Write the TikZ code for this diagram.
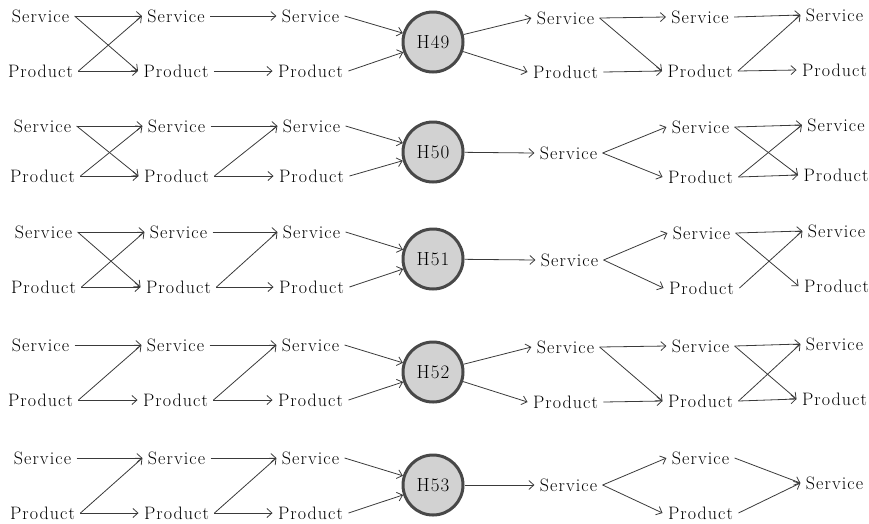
\documentclass[tikz,border=0pt]{standalone}
\usepackage{fontspec}
\setmainfont{Latin Modern Roman}[LetterSpace=6]
\usetikzlibrary{arrows.meta}
\definecolor{linegray}{HTML}{3A3A3A}
\definecolor{hubfill}{HTML}{D2D2D2}
\definecolor{hubedge}{HTML}{484848}
\begin{document}
\begin{tikzpicture}[x=1pt,y=-1pt,
  lbl/.style={inner sep=2.5pt,outer sep=3pt,font=\fontsize{18}{20}\selectfont},
  hub/.style={circle,draw=hubedge,fill=hubfill,line width=3pt,minimum size=60pt,
    inner sep=0pt,font=\fontsize{19}{20}\selectfont},
  conn/.style={draw=linegray,line width=0.8pt,-{Straight Barb[length=5pt,width=9pt]}}]
\useasboundingbox (0,0) rectangle (869,523);

% ---------- H49 ----------
\node[lbl] (a0s) at (40.5,16) {Service};
\node[lbl] (a0p) at (40.5,71) {Product};
\node[lbl] (a1s) at (176,16) {Service};
\node[lbl] (a1p) at (176,71) {Product};
\node[lbl] (a2s) at (310.5,16) {Service};
\node[lbl] (a2p) at (310.5,71) {Product};
\node[hub] (ah) at (433,42) {H49};
\node[lbl] (a3s) at (565.5,18) {Service};
\node[lbl] (a3p) at (565.5,72) {Product};
\node[lbl] (a4s) at (700,17) {Service};
\node[lbl] (a4p) at (700,71) {Product};
\node[lbl] (a5s) at (834.5,15) {Service};
\node[lbl] (a5p) at (834.5,70) {Product};
\draw[conn] (a0s.east) -- (a1s.west);
\draw[conn] (a0s.east) -- (a1p.west);
\draw[conn] (a0p.east) -- (a1s.west);
\draw[conn] (a0p.east) -- (a1p.west);
\draw[conn] (a1s.east) -- (a2s.west);
\draw[conn] (a1p.east) -- (a2p.west);
\draw[conn] (a2s.east) -- (ah);
\draw[conn] (a2p.east) -- (ah);
\draw[conn] (ah) -- (a3s.west);
\draw[conn] (ah) -- (a3p.west);
\draw[conn] (a3s.east) -- (a4s.west);
\draw[conn] (a3s.east) -- (a4p.west);
\draw[conn] (a3p.east) -- (a4p.west);
\draw[conn] (a4s.east) -- (a5s.west);
\draw[conn] (a4p.east) -- (a5s.west);
\draw[conn] (a4p.east) -- (a5p.west);

% ---------- H50 ----------
\node[lbl] (b0s) at (42.5,126) {Service};
\node[lbl] (b0p) at (42.5,176) {Product};
\node[lbl] (b1s) at (176.5,126) {Service};
\node[lbl] (b1p) at (176.5,176) {Product};
\node[lbl] (b2s) at (311.5,126) {Service};
\node[lbl] (b2p) at (311.5,176) {Product};
\node[hub] (bh) at (433,152) {H50};
\node[lbl] (b3s) at (568.5,153) {Service};
\node[lbl] (b4s) at (700.5,127) {Service};
\node[lbl] (b4p) at (700.5,177) {Product};
\node[lbl] (b5s) at (836,125) {Service};
\node[lbl] (b5p) at (836,175) {Product};
\draw[conn] (b0s.east) -- (b1s.west);
\draw[conn] (b0s.east) -- (b1p.west);
\draw[conn] (b0p.east) -- (b1s.west);
\draw[conn] (b0p.east) -- (b1p.west);
\draw[conn] (b1s.east) -- (b2s.west);
\draw[conn] (b1p.east) -- (b2s.west);
\draw[conn] (b1p.east) -- (b2p.west);
\draw[conn] (b2s.east) -- (bh);
\draw[conn] (b2p.east) -- (bh);
\draw[conn] (bh) -- (b3s.west);
\draw[conn] (b3s.east) -- (b4s.west);
\draw[conn] (b3s.east) -- (b4p.west);
\draw[conn] (b4s.east) -- (b5s.west);
\draw[conn] (b4s.east) -- (b5p.west);
\draw[conn] (b4p.east) -- (b5s.west);
\draw[conn] (b4p.east) -- (b5p.west);

% ---------- H51 ----------
\node[lbl] (c0s) at (43.5,232) {Service};
\node[lbl] (c0p) at (43.5,287) {Product};
\node[lbl] (c1s) at (178.5,232) {Service};
\node[lbl] (c1p) at (178.5,287) {Product};
\node[lbl] (c2s) at (311.5,232) {Service};
\node[lbl] (c2p) at (311.5,287) {Product};
\node[hub] (ch) at (433,259) {H51};
\node[lbl] (c3s) at (569.5,260) {Service};
\node[lbl] (c4s) at (701.5,233) {Service};
\node[lbl] (c4p) at (701.5,288) {Product};
\node[lbl] (c5s) at (836.5,231) {Service};
\node[lbl] (c5p) at (836.5,286) {Product};
\draw[conn] (c0s.east) -- (c1s.west);
\draw[conn] (c0s.east) -- (c1p.west);
\draw[conn] (c0p.east) -- (c1s.west);
\draw[conn] (c0p.east) -- (c1p.west);
\draw[conn] (c1s.east) -- (c2s.west);
\draw[conn] (c1p.east) -- (c2s.west);
\draw[conn] (c1p.east) -- (c2p.west);
\draw[conn] (c2s.east) -- (ch);
\draw[conn] (c2p.east) -- (ch);
\draw[conn] (ch) -- (c3s.west);
\draw[conn] (c3s.east) -- (c4s.west);
\draw[conn] (c3s.east) -- (c4p.west);
\draw[conn] (c4s.east) -- (c5s.west);
\draw[conn] (c4s.east) -- (c5p.west);
\draw[conn] (c4p.east) -- (c5s.west);

% ---------- H52 ----------
\node[lbl] (d0s) at (40.5,345) {Service};
\node[lbl] (d0p) at (40.5,400) {Product};
\node[lbl] (d1s) at (175.5,345) {Service};
\node[lbl] (d1p) at (175.5,400) {Product};
\node[lbl] (d2s) at (310.5,345) {Service};
\node[lbl] (d2p) at (310.5,400) {Product};
\node[hub] (dh) at (433,372) {H52};
\node[lbl] (d3s) at (565.5,347) {Service};
\node[lbl] (d3p) at (565.5,402) {Product};
\node[lbl] (d4s) at (700.5,346) {Service};
\node[lbl] (d4p) at (700.5,401) {Product};
\node[lbl] (d5s) at (834.5,344) {Service};
\node[lbl] (d5p) at (834.5,399) {Product};
\draw[conn] (d0s.east) -- (d1s.west);
\draw[conn] (d0p.east) -- (d1s.west);
\draw[conn] (d0p.east) -- (d1p.west);
\draw[conn] (d1s.east) -- (d2s.west);
\draw[conn] (d1p.east) -- (d2s.west);
\draw[conn] (d1p.east) -- (d2p.west);
\draw[conn] (d2s.east) -- (dh);
\draw[conn] (d2p.east) -- (dh);
\draw[conn] (dh) -- (d3s.west);
\draw[conn] (dh) -- (d3p.west);
\draw[conn] (d3s.east) -- (d4s.west);
\draw[conn] (d3s.east) -- (d4p.west);
\draw[conn] (d3p.east) -- (d4p.west);
\draw[conn] (d4s.east) -- (d5s.west);
\draw[conn] (d4s.east) -- (d5p.west);
\draw[conn] (d4p.east) -- (d5s.west);
\draw[conn] (d4p.east) -- (d5p.west);

% ---------- H53 ----------
\node[lbl] (e0s) at (42.5,458) {Service};
\node[lbl] (e0p) at (42.5,513) {Product};
\node[lbl] (e1s) at (176.5,458) {Service};
\node[lbl] (e1p) at (176.5,513) {Product};
\node[lbl] (e2s) at (310.5,458) {Service};
\node[lbl] (e2p) at (310.5,513) {Product};
\node[hub] (eh) at (433,485) {H53};
\node[lbl] (e3s) at (568.5,485) {Service};
\node[lbl] (e4s) at (700.5,458) {Service};
\node[lbl] (e4p) at (700.5,513) {Product};
\node[lbl] (e5s) at (834.5,483) {Service};
\draw[conn] (e0s.east) -- (e1s.west);
\draw[conn] (e0p.east) -- (e1s.west);
\draw[conn] (e0p.east) -- (e1p.west);
\draw[conn] (e1s.east) -- (e2s.west);
\draw[conn] (e1p.east) -- (e2s.west);
\draw[conn] (e1p.east) -- (e2p.west);
\draw[conn] (e2s.east) -- (eh);
\draw[conn] (e2p.east) -- (eh);
\draw[conn] (eh) -- (e3s.west);
\draw[conn] (e3s.east) -- (e4s.west);
\draw[conn] (e3s.east) -- (e4p.west);
\draw[conn] (e4s.east) -- (e5s.west);
\draw[conn] (e4p.east) -- (e5s.west);
\end{tikzpicture}
\end{document}
